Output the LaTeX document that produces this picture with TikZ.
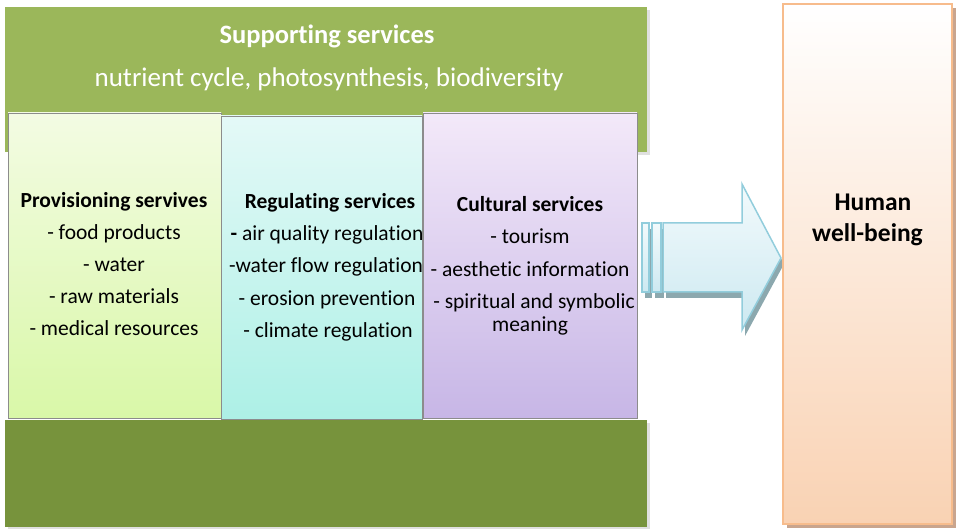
\documentclass[tikz,border=0pt]{standalone}
\usepackage{fontspec}
\setmainfont{Carlito}[Ligatures=NoCommon]
\definecolor{greenTop}{HTML}{9BB75A}
\definecolor{greenBot}{HTML}{77933C}
\definecolor{provTop}{HTML}{F3FBE3}
\definecolor{provBot}{HTML}{D9F8A8}
\definecolor{regTop}{HTML}{E4F9F7}
\definecolor{regBot}{HTML}{ADF0E6}
\definecolor{culTop}{HTML}{F3E9F9}
\definecolor{culBot}{HTML}{C7B6E6}
\definecolor{humBorder}{HTML}{F7BC8C}
\definecolor{humBot}{HTML}{F9D2B3}
\definecolor{humShadow}{HTML}{C9A58E}
\definecolor{arrLine}{HTML}{92CDDC}
\definecolor{arrTop}{HTML}{F2FAFC}
\definecolor{arrBot}{HTML}{CDE9F1}
\definecolor{arrShadow}{HTML}{8CA8AE}
\begin{document}
\begin{tikzpicture}[x=1pt,y=-1pt,
  svcbox/.style={draw=gray!90, line width=0.9pt},
  shadowbox/.style={fill=black, opacity=0.12},
  titletxt/.style={anchor=base, font=\fontsize{21.5}{25}\selectfont\bfseries, inner sep=0pt},
  itemtxt/.style={anchor=base, font=\fontsize{21.5}{25}\selectfont, inner sep=0pt},
  suptitle/.style={anchor=base, text=white, font=\fontsize{26.5}{30}\selectfont\bfseries, inner sep=0pt},
  supsub/.style={anchor=base, text=white, font=\fontsize{27}{31}\selectfont, inner sep=0pt},
  humtxt/.style={anchor=base, font=\fontsize{25.5}{30}\selectfont\bfseries, inner sep=0pt},
  arrpart/.style={draw=arrLine, line width=1.5pt, top color=arrTop, bottom color=arrBot, line join=miter}
]
\useasboundingbox (0,0) rectangle (959,529);

% supporting services background boxes
\fill[shadowbox] (8,10) rectangle (650,155);
\fill[greenTop] (5,7) rectangle (647,152);
\fill[shadowbox] (8,423) rectangle (650,529);
\fill[greenBot] (5,420) rectangle (647,527);

\node[suptitle] (suptitle) at (327,44) {Supporting services};
\node[supsub] (supsub) at (329,87) {nutrient cycle, photosynthesis, biodiversity};

% three service boxes
\draw[svcbox, top color=provTop, bottom color=provBot] (8,113) rectangle (221,418);
\draw[svcbox, top color=regTop, bottom color=regBot] (221,116) rectangle (422,419);
\draw[svcbox, top color=culTop, bottom color=culBot] (423,113) rectangle (637,418);

% provisioning
\node[titletxt] (p0) at (114,208) {Provisioning servives};
\node[itemtxt] (p1) at (114,240) {- food products};
\node[itemtxt] (p2) at (114,272) {- water};
\node[itemtxt] (p3) at (114,304) {- raw materials};
\node[itemtxt] (p4) at (114,336) {- medical resources};

% regulating
\node[titletxt] (r0) at (330,209) {Regulating services};
\node[itemtxt] (r1) at (327,241) {\textbf{-} air quality regulation};
\node[itemtxt] (r2) at (326,273) {-water flow regulation};
\node[itemtxt] (r3) at (327,306) {- erosion prevention};
\node[itemtxt] (r4) at (328,338) {- climate regulation};

% cultural
\node[titletxt] (c0) at (530,212) {Cultural services};
\node[itemtxt] (c1) at (530,244) {- tourism};
\node[itemtxt] (c2) at (530,277) {- aesthetic information};
\node[itemtxt] (c3) at (534,309) {- spiritual and symbolic};
\node[itemtxt] (c4) at (530,332) {meaning};

% arrow
\begin{scope}[shift={(3,6)}]
  \fill[arrShadow] (642,223) rectangle (649,292);
  \fill[arrShadow] (652,223) rectangle (661,292);
  \fill[arrShadow] (663,223) -- (742,223) -- (742,184) -- (781,258) -- (742,330) -- (742,292) -- (663,292) -- cycle;
\end{scope}
\draw[arrpart] (642,223) rectangle (649,292);
\draw[arrpart] (652,223) rectangle (661,292);
\draw[arrpart] (663,223) -- (742,223) -- (742,184) -- (781,258) -- (742,330) -- (742,292) -- (663,292) -- cycle;

% human well-being
\fill[humShadow] (787,8) rectangle (956,528);
\draw[humBorder, line width=2pt, top color=white, bottom color=humBot] (783,4) rectangle (952,524);
\node[humtxt] (h1) at (873,211) {Human};
\node[humtxt] (h2) at (867.5,242) {well-being};
\end{tikzpicture}
\end{document}
